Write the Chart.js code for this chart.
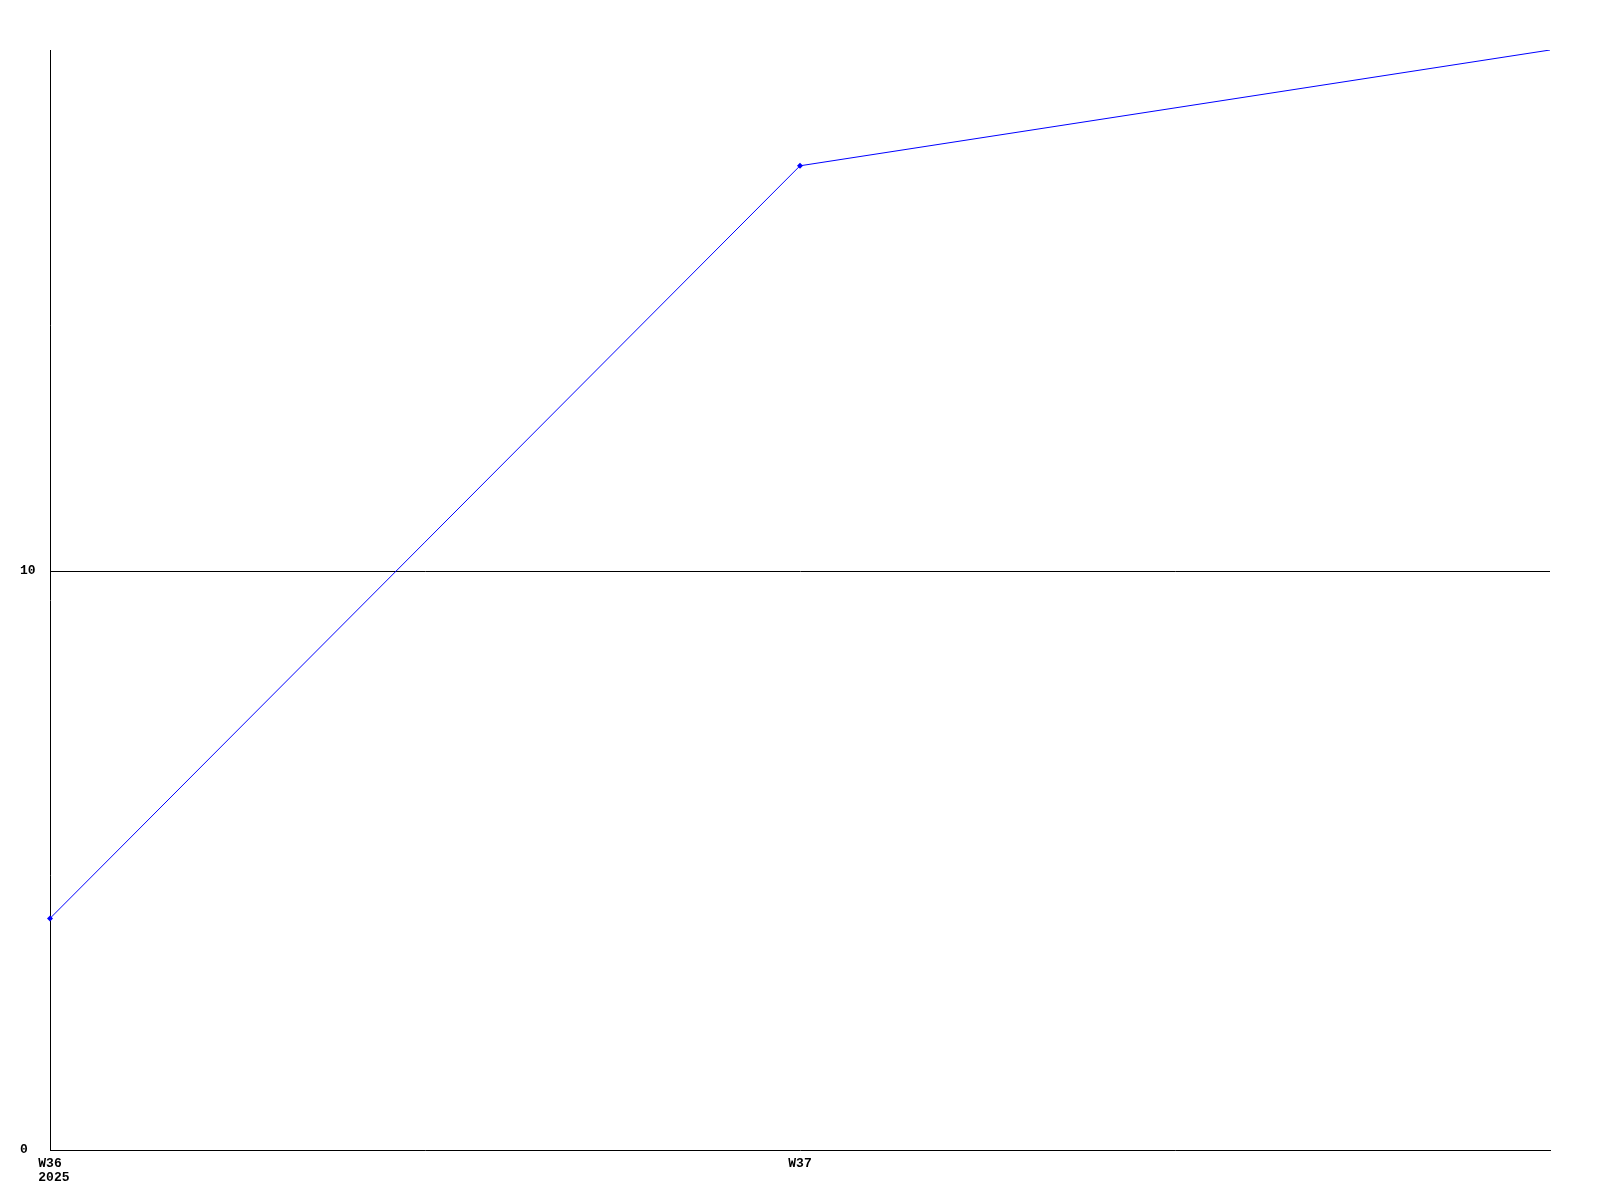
<!DOCTYPE html>
<html>
<head>
<meta charset="utf-8">
<script src="https://cdn.jsdelivr.net/npm/chart.js@4/dist/chart.umd.min.js"></script>
<style>
  html, body { margin: 0; padding: 0; background: #fff; }
  #wrap { width: 1600px; height: 1200px; }
</style>
</head>
<body>
<div id="wrap"><canvas id="c" width="1600" height="1200"></canvas></div>
<script>
const categories = ['W36', 'W37', 'W38'];
const tickLabels = [['W36', '2025'], 'W37', ''];
const values = [4, 17, 19];
const yTicks = [0, 10];
const yMin = 0;
const yMax = 19;

const FONT = { family: '"Liberation Mono", "DejaVu Sans Mono", monospace', size: 13, weight: 'bold', lineHeight: 14 / 13 };

// Left-align multi-line x labels to the first line, which stays centred on its tick.
const alignLabels = {
  id: 'alignLabels',
  beforeDraw(chart) {
    const scale = chart.scales.x;
    const items = scale.getLabelItems();
    const ctx = chart.ctx;
    ctx.save();
    items.forEach(it => {
      const first = Array.isArray(it.label) ? it.label[0] : it.label;
      ctx.font = it.font.string;
      const w = ctx.measureText(first).width;
      if (it.options.textAlign === 'center') {
        it.options.textAlign = 'left';
        it.options.translation[0] -= w / 2;
      }
    });
    ctx.restore();
  }
};

new Chart(document.getElementById('c'), {
  type: 'line',
  data: {
    labels: categories,
    datasets: [{
      data: values,
      borderColor: '#0000ff',
      backgroundColor: '#0000ff',
      borderWidth: 1,
      fill: false,
      tension: 0,
      pointStyle: 'rectRot',
      pointRadius: ctx => ctx.dataIndex === values.length - 1 ? 0 : 3,
      pointBorderWidth: 0,
      pointBackgroundColor: '#0000ff'
    }]
  },
  plugins: [alignLabels],
  options: {
    responsive: false,
    animation: false,
    devicePixelRatio: 1,
    layout: { padding: { left: 20, right: 50, top: 50, bottom: 0 } },
    plugins: { legend: { display: false }, tooltip: { enabled: false } },
    scales: {
      x: {
        type: 'category',
        offset: false,
        grid: { display: false, drawTicks: false },
        border: { display: true, color: '#000', width: 1 },
        ticks: {
          color: '#000',
          font: FONT,
          padding: 7,
          maxRotation: 0,
          autoSkip: false,
          callback: (v, i) => tickLabels[i]
        },
        afterFit: s => { s.height = 50; }
      },
      y: {
        min: yMin,
        max: yMax,
        grid: {
          drawTicks: false,
          color: ctx => (ctx.tick && ctx.tick.value === 10) ? '#000' : 'rgba(0,0,0,0)',
          lineWidth: 1
        },
        border: { display: true, color: '#000', width: 1 },
        ticks: {
          color: '#000',
          font: FONT,
          crossAlign: 'far',
          padding: 0
        },
        afterBuildTicks: s => { s.ticks = yTicks.map(v => ({ value: v })); },
        afterFit: s => { s.width = 30; }
      }
    }
  }
});
</script>
</body>
</html>
